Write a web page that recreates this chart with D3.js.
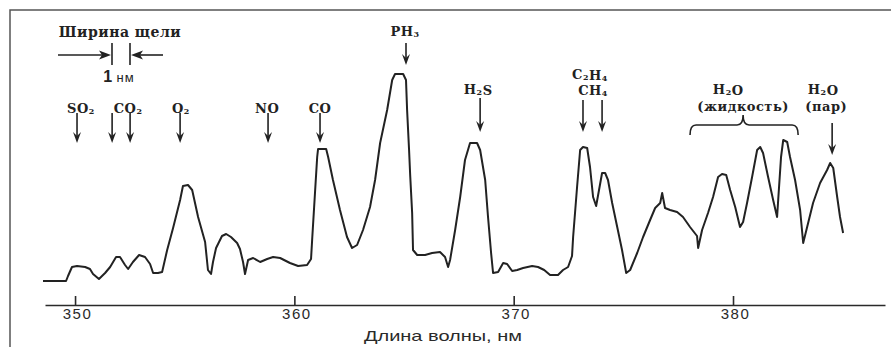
<!DOCTYPE html>
<html lang="ru">
<head>
<meta charset="UTF-8">
<script src="https://d3js.org/d3.v7.min.js"></script>
<title>Спектр</title>
<style>
body { margin: 0; background: #fff; }
.xAxis path, .xAxis line { stroke: #2a2a2a; stroke-width: 1.6; }
.xAxis text { font-family: "Liberation Sans", Arial, sans-serif; font-size: 15px; fill: #2a2a2a; letter-spacing: 1.5px; }
.lbl { font-family: "DejaVu Serif", serif; font-size: 13px; font-weight: bold; fill: #222; letter-spacing: 0.5px; }
</style>
</head>
<body>
<script>
// длина волны, нм
var wavelength = [348.54, 349.59, 349.68, 349.86, 350.09, 350.46, 350.68, 350.82, 351.09, 351.37,
    351.60, 351.87, 352.05, 352.28, 352.42, 352.64, 352.92, 353.19, 353.42, 353.56,
    353.78, 353.97, 354.20, 354.47, 354.79, 354.92, 355.15, 355.34, 355.61, 355.93,
    356.06, 356.20, 356.29, 356.43, 356.70, 356.89, 357.11, 357.39, 357.52, 357.66,
    357.75, 357.89, 358.12, 358.44, 358.76, 359.03, 359.35, 359.80, 360.17, 360.58,
    360.76, 360.81, 360.94, 361.04, 361.08, 361.45, 361.54, 361.76, 362.08, 362.40,
    362.63, 362.86, 363.13, 363.45, 363.68, 363.91, 364.23, 364.46, 364.59, 364.96,
    365.09, 365.14, 365.23, 365.28, 365.37, 365.41, 365.60, 365.96, 366.28, 366.64,
    366.87, 367.01, 367.10, 367.33, 367.56, 367.78, 368.01, 368.33, 368.47, 368.70,
    368.83, 368.97, 369.06, 369.29, 369.52, 369.70, 369.93, 370.16, 370.43, 370.84,
    371.11, 371.39, 371.66, 372.02, 372.25, 372.48, 372.66, 372.71, 372.89, 373.03,
    373.16, 373.35, 373.48, 373.62, 373.76, 373.85, 374.03, 374.17, 374.30, 374.49,
    374.72, 374.94, 375.13, 375.31, 375.63, 375.90, 376.22, 376.45, 376.68, 376.77,
    376.90, 377.13, 377.45, 377.72, 378.04, 378.36, 378.41, 378.59, 378.86, 379.09,
    379.32, 379.50, 379.69, 379.87, 380.10, 380.32, 380.46, 380.64, 380.87, 381.10,
    381.24, 381.37, 381.60, 381.83, 382.01, 382.06, 382.19, 382.29, 382.47, 382.60,
    382.83, 383.06, 383.20, 383.38, 383.65, 383.97, 384.29, 384.43, 384.57, 384.75,
    384.88, 385.02]
// сигнал, отн. ед.
var intensity = [19, 19, 24, 33, 34, 33, 31, 26, 21, 27,
    33, 43, 43, 35, 31, 38, 45, 43, 36, 27,
    27, 28, 50, 72, 100, 114, 115, 110, 83, 58,
    30, 26, 38, 52, 64, 66, 63, 57, 51, 38,
    26, 40, 42, 38, 41, 43, 42, 37, 34, 35,
    41, 60, 107, 143, 151, 151, 143, 120, 90, 63,
    52, 55, 70, 93, 120, 157, 190, 220, 226, 226,
    220, 190, 150, 125, 87, 50, 45, 45, 47, 48,
    43, 33, 40, 70, 103, 140, 157, 157, 150, 120,
    83, 47, 27, 28, 37, 36, 29, 30, 32, 34,
    33, 30, 25, 25, 30, 33, 44, 63, 113, 150,
    153, 152, 133, 103, 94, 105, 127, 127, 120, 97,
    73, 50, 27, 30, 47, 63, 80, 92, 97, 107,
    92, 90, 88, 83, 73, 64, 52, 70, 87, 103,
    123, 126, 125, 110, 93, 73, 78, 97, 123, 150,
    153, 147, 123, 100, 83, 100, 143, 160, 158, 143,
    120, 90, 57, 73, 97, 117, 130, 137, 132, 103,
    83, 67]
var tickValues = [350, 360, 370, 380]
var axisTitle = "Длина волны, нм"

// стрелки над линиями газов
var arrowGas = ["SO_2", "CO_2", "CO_2", "O_2", "NO", "CO", "PH_3", "H_2S", "C_2H_4", "CH_4", "H_2O"]
var arrowWl = [350.09, 351.69, 352.51, 354.79, 358.80, 361.17, 365.09, 368.47, 373.16, 374.03, 384.52]

var width = 891, height = 347

var svg = d3.select("body").append("svg")
    .attr("width", width)
    .attr("height", height)

var xScale = d3.scaleLinear()
    .domain([348.63, 386.93])
    .range([45, 885])
var yScale = d3.scaleLinear()
    .domain([0, 240])
    .range([300, 60])

// рамка
svg.append("path")
    .attr("d", "M10,347 L10,10 L891,10")
    .attr("fill", "none")
    .attr("stroke", "#555")
    .attr("stroke-width", 1.5)

var xAxis = d3.axisBottom(xScale)
    .tickValues(tickValues)
    .tickSizeInner(-9)
    .tickSizeOuter(0)
    .tickPadding(3)
    .tickFormat(d3.format("d"))

svg.append("g")
    .attr("class", "xAxis")
    .attr("transform", "translate(0,305)")
    .call(xAxis)
    .selectAll("text").attr("dx", 2)

svg.append("text")
    .attr("x", 443)
    .attr("y", 341)
    .attr("text-anchor", "middle")
    .attr("textLength", 158)
    .attr("lengthAdjust", "spacingAndGlyphs")
    .style("font-family", '"Liberation Sans", Arial, sans-serif')
    .style("font-size", "15px")
    .attr("fill", "#2a2a2a")
    .text(axisTitle)

var data = wavelength.map(function (w, i) { return [w, intensity[i]] })
var line = d3.line()
    .x(function (d) { return xScale(d[0]) })
    .y(function (d) { return yScale(d[1]) })

svg.append("path")
    .datum(data)
    .attr("d", line)
    .attr("fill", "none")
    .attr("stroke", "#222")
    .attr("stroke-width", 2)
    .attr("stroke-linejoin", "round")

function label(str, x, y) {
    var t = svg.append("text").attr("class", "lbl")
        .attr("x", x).attr("y", y).attr("text-anchor", "middle")
    str.split(/(_\d)/).forEach(function (p) {
        if (!p) return
        if (p[0] === "_") {
            t.append("tspan").attr("font-size", "8px").attr("dy", 1).text(p.slice(1))
            t.append("tspan").attr("dy", -1).text("")
        } else {
            t.append("tspan").text(p)
        }
    })
    return t
}

function arrowDown(x, y1, y2) {
    svg.append("line")
        .attr("x1", x).attr("x2", x).attr("y1", y1).attr("y2", y2 - 4)
        .attr("stroke", "#222").attr("stroke-width", 1.6)
    svg.append("path")
        .attr("d", "M" + x + "," + y2 + " l-4,-11 l4,4 l4,-4 z")
        .attr("fill", "#222")
}

// вертикальные диапазоны стрелок
var arrowTop = { "PH_3": 43, "H_2S": 98, "C_2H_4": 100, "CH_4": 100, "H_2O": 123 }
var arrowBot = { "PH_3": 65, "H_2S": 132, "C_2H_4": 132, "CH_4": 132, "H_2O": 155 }
arrowGas.forEach(function (g, i) {
    var x = xScale(arrowWl[i])
    arrowDown(x, arrowTop[g] || 113, arrowBot[g] || 143)
})

label("SO_2", xScale(350.27), 113)
label("CO_2", xScale(352.42), 113)
label("O_2", xScale(354.83), 113)
label("NO", xScale(358.76), 113)
label("CO", xScale(361.17), 113)
label("PH_3", xScale(365.05), 36)
label("H_2S", xScale(368.38), 94)
label("C_2H_4", xScale(373.48), 79)
label("CH_4", xScale(373.62), 95)
label("H_2O", xScale(379.78), 94)
label("(жидкость)", xScale(380.46), 111)
label("H_2O", xScale(384.11), 94)
label("(пар)", xScale(384.25), 111)

// фигурная скобка
var b0 = xScale(378.04), bm = xScale(380.46), b1 = xScale(382.97)
svg.append("path")
    .attr("d", "M" + b0 + ",135 Q" + b0 + ",125 " + (b0 + 6) + ",125 L" + (bm - 6) + ",125 Q" + bm + ",125 " + bm + ",115" +
        " Q" + bm + ",125 " + (bm + 6) + ",125 L" + (b1 - 6) + ",125 Q" + b1 + ",125 " + b1 + ",135")
    .attr("fill", "none")
    .attr("stroke", "#222")
    .attr("stroke-width", 1.6)

// ширина щели
label("Ширина щели", 120, 37).style("font-size", "14px")
var sl = svg.append("g").attr("stroke", "#222").attr("stroke-width", 1.6)
sl.append("line").attr("x1", 58).attr("x2", 103).attr("y1", 55).attr("y2", 55)
sl.append("line").attr("x1", 112).attr("x2", 112).attr("y1", 43).attr("y2", 65)
sl.append("line").attr("x1", 130).attr("x2", 130).attr("y1", 43).attr("y2", 65)
sl.append("line").attr("x1", 139).attr("x2", 163).attr("y1", 55).attr("y2", 55)
svg.append("path").attr("d", "M111,55 l-12,-4.5 l3,4.5 l-3,4.5 z").attr("fill", "#222")
svg.append("path").attr("d", "M131,55 l12,-4.5 l-3,4.5 l3,4.5 z").attr("fill", "#222")

var nm = svg.append("text")
    .attr("x", 119).attr("y", 82).attr("text-anchor", "middle")
    .style("font-family", '"Liberation Sans", Arial, sans-serif')
    .attr("fill", "#222")
nm.append("tspan").style("font-size", "16px").style("font-weight", "bold").text("1 ")
nm.append("tspan").style("font-size", "13px").style("letter-spacing", "1px").text("нм")
</script>
</body>
</html>
